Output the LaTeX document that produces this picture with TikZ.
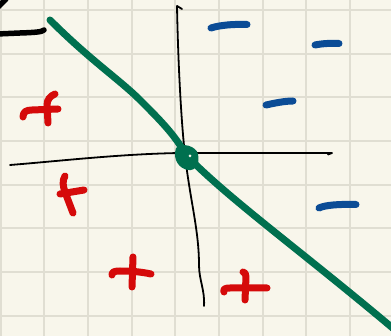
\documentclass[tikz,border=0pt]{standalone}
\usetikzlibrary{calc}
\definecolor{paper}{HTML}{F8F6EB}
\definecolor{gridc}{HTML}{E0DED2}
\definecolor{pengreen}{HTML}{00704F}
\definecolor{penblue}{HTML}{0B4C96}
\definecolor{penred}{HTML}{D50A0A}
\tikzset{
  gridline/.style={draw=gridc, line width=2pt},
  axisline/.style={draw=black, line width=1.8pt, line cap=round, line join=round},
  greenpen/.style={draw=pengreen, line width=7pt, line cap=round, line join=round},
  bluepen/.style={draw=penblue, line width=7pt, line cap=round, line join=round},
  redpen/.style={draw=penred, line width=7pt, line cap=round, line join=round},
  blackpen/.style={draw=black, line width=5.5pt, line cap=round, line join=round}
}
\begin{document}
\begin{tikzpicture}[x=1pt,y=-1pt]
\useasboundingbox (0,0) rectangle (391,336);
\fill[paper] (0,0) rectangle (391,336);
% grid
\foreach \i in {0,...,8} { \draw[gridline] ({0.5+43.7*\i},0) -- ({0.5+43.7*\i},336); }
\foreach \j in {0,...,7} { \draw[gridline] (0,{10+43.7*\j}) -- (391,{10+43.7*\j}); }
% top-left black strokes
\draw[blackpen] (-3,34) -- (20,33) .. controls (35,32.5) and (42,32) .. (44,30);
\draw[blackpen] (-2,7) -- (6,-1);
% axes
\draw[axisline] (10,165) .. controls (60,161) and (120,154) .. (180,153) -- (332,153) -- (328,154.5);
\draw[axisline] (182,9) -- (177,6) .. controls (178,60) and (181,120) .. (185,155)
  .. controls (190,200) and (199,230) .. (199,265) .. controls (199,280) and (205,290) .. (204,306);
% green line
\draw[greenpen] (50,20) .. controls (90,60) and (120,80) .. (140,100) .. controls (160,120) and (175,135) .. (186,155)
  .. controls (230,200) and (300,250) .. (395,330);
\fill[pengreen] (176,148) .. controls (182,142) and (196,146) .. (198,154) .. controls (200,164) and (196,171) .. (188,170)
  .. controls (180,169) and (172,160) .. (176,148) -- cycle;
\fill[paper] (190,156) circle (1.5);
% blue minuses
\draw[bluepen] (211,28) .. controls (220,25) and (235,24) .. (247,24.5);
\draw[bluepen, line width=3pt, draw=penblue] (219,25) .. controls (228,22.5) and (238,22.5) .. (247,23.5);
\draw[bluepen] (315,45) .. controls (322,43.5) and (332,43) .. (339,43.5);
\draw[bluepen] (266,105) .. controls (275,103) and (285,101) .. (293,101);
\draw[bluepen] (319,208) .. controls (325,205) and (340,204) .. (356,204.5);
% red pluses
\draw[redpen] (23,117) .. controls (23,112) and (26,110) .. (32,110) -- (58,109);
\draw[redpen] (55,94) .. controls (50,96) and (47,100) .. (47,105) -- (48,123);
\draw[redpen] (60,194) -- (84,190);
\draw[redpen] (65,176) .. controls (62,181) and (63,186) .. (65,192) -- (73,213);
\draw[redpen] (112,275) .. controls (112,272) and (114,271) .. (120,271) .. controls (132,271) and (142,272) .. (151,274);
\draw[redpen] (133,257) -- (132,287);
\draw[redpen] (224,292) .. controls (223,289) and (225,288) .. (230,288) -- (267,288);
\draw[redpen] (243,272) .. controls (245,272) and (246,274) .. (246,277) -- (245,300);
\end{tikzpicture}
\end{document}
